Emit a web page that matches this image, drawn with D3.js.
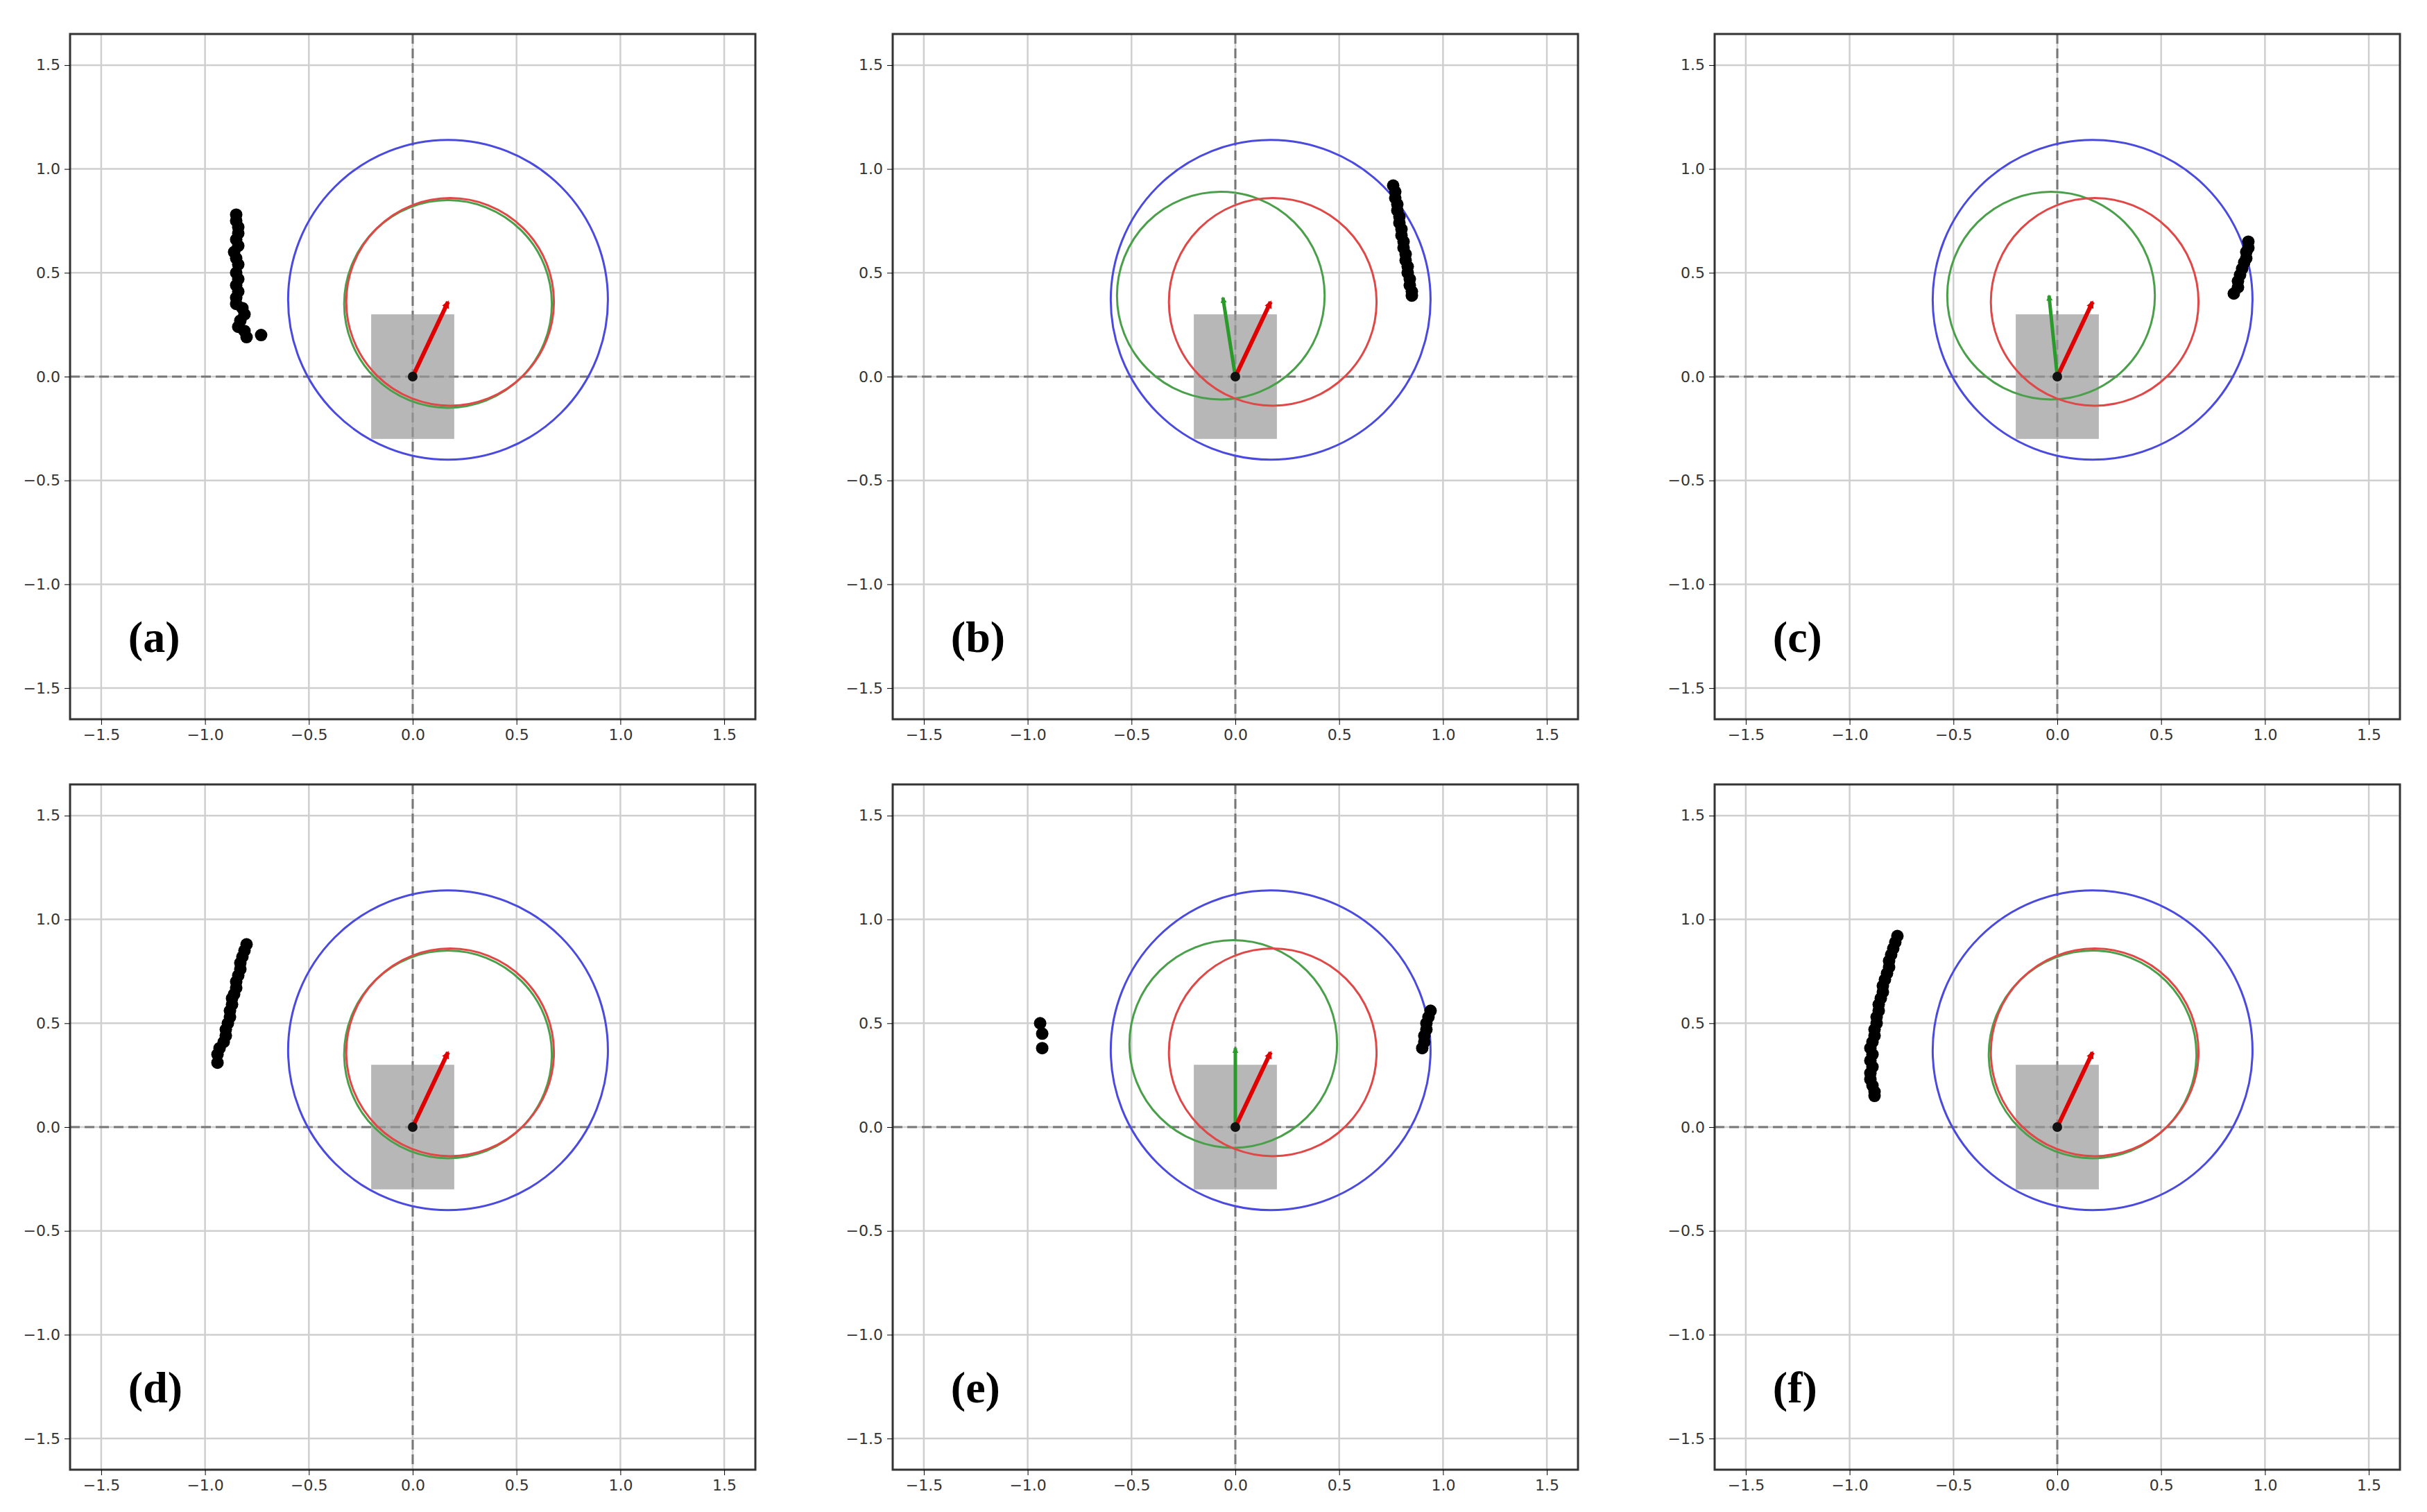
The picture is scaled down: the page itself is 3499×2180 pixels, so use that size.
<!DOCTYPE html>
<html><head><meta charset="utf-8">
<script src="https://cdn.jsdelivr.net/npm/d3@7"></script>
<style>body{margin:0;background:#fff}</style></head>
<body><svg width="3499" height="2180"></svg>
<script>
const panelLabels = ['(a)', '(b)', '(c)', '(d)', '(e)', '(f)'];
const ticks = [-1.5, -1.0, -0.5, 0.0, 0.5, 1.0, 1.5];
const blueCircle = {cx: 0.17, cy: 0.37, r: 0.77};
const redCircle = {cx: 0.18, cy: 0.36, r: 0.5};
const robotBox = {x0: -0.2, x1: 0.2, y0: -0.3, y1: 0.3};
const greenCircles = [
  {cx: 0.17, cy: 0.35, r: 0.5}, {cx: -0.07, cy: 0.39, r: 0.5}, {cx: -0.03, cy: 0.39, r: 0.5},
  {cx: 0.17, cy: 0.35, r: 0.5}, {cx: -0.01, cy: 0.4, r: 0.5}, {cx: 0.17, cy: 0.35, r: 0.5}
];
const redArrow = [0.17, 0.36];
const greenArrows = [null, [-0.06, 0.38], [-0.04, 0.39], null, [0, 0.38], null];
const points = [
  [[-0.85,0.78],[-0.85,0.75],[-0.84,0.72],[-0.84,0.69],[-0.85,0.66],[-0.84,0.63],[-0.86,0.6],[-0.85,0.57],[-0.84,0.54],[-0.85,0.5],[-0.84,0.47],[-0.85,0.44],[-0.84,0.41],[-0.85,0.38],[-0.85,0.35],[-0.82,0.33],[-0.81,0.3],[-0.83,0.27],[-0.84,0.24],[-0.81,0.22],[-0.8,0.19],[-0.73,0.2]],
  [[0.76,0.92],[0.77,0.89],[0.77,0.86],[0.78,0.83],[0.78,0.8],[0.79,0.77],[0.79,0.74],[0.8,0.71],[0.8,0.68],[0.81,0.65],[0.81,0.62],[0.82,0.59],[0.82,0.56],[0.83,0.53],[0.83,0.5],[0.84,0.47],[0.84,0.44],[0.85,0.41],[0.85,0.39]],
  [[0.92,0.65],[0.92,0.62],[0.91,0.6],[0.91,0.57],[0.9,0.55],[0.89,0.52],[0.88,0.49],[0.87,0.46],[0.87,0.43],[0.85,0.4]],
  [[-0.8,0.88],[-0.81,0.85],[-0.82,0.82],[-0.83,0.79],[-0.83,0.76],[-0.84,0.73],[-0.85,0.7],[-0.85,0.67],[-0.86,0.64],[-0.87,0.62],[-0.87,0.59],[-0.88,0.56],[-0.88,0.53],[-0.89,0.5],[-0.9,0.47],[-0.9,0.44],[-0.91,0.41],[-0.93,0.38],[-0.94,0.35],[-0.94,0.31]],
  [[-0.94,0.5],[-0.93,0.45],[-0.93,0.38],[0.94,0.56],[0.93,0.53],[0.92,0.5],[0.92,0.47],[0.91,0.44],[0.91,0.41],[0.9,0.38]],
  [[-0.77,0.92],[-0.78,0.89],[-0.79,0.86],[-0.8,0.83],[-0.81,0.8],[-0.81,0.77],[-0.82,0.74],[-0.83,0.71],[-0.84,0.68],[-0.84,0.65],[-0.85,0.62],[-0.86,0.59],[-0.86,0.56],[-0.87,0.53],[-0.87,0.5],[-0.88,0.47],[-0.88,0.44],[-0.89,0.41],[-0.9,0.38],[-0.89,0.35],[-0.9,0.32],[-0.89,0.29],[-0.9,0.26],[-0.9,0.23],[-0.89,0.2],[-0.88,0.17],[-0.88,0.15]]
];

const svg = d3.select('svg');
const colX = [101, 1287, 2472];
const rowY = [49, 1131];
const size = 988;

svg.append('defs').selectAll('marker')
  .data([['red', '#e00000'], ['green', '#2a9a2a']])
  .join('marker')
  .attr('id', d => 'arr-' + d[0])
  .attr('viewBox', '0 0 10 10').attr('refX', 8).attr('refY', 5)
  .attr('markerWidth', 1.8).attr('markerHeight', 1.8).attr('orient', 'auto')
  .append('path').attr('d', 'M0,0L10,5L0,10z').attr('fill', d => d[1]);

panelLabels.forEach((label, i) => {
  const g = svg.append('g')
    .attr('transform', `translate(${colX[i % 3]},${rowY[Math.floor(i / 3)]})`);
  const x = d3.scaleLinear().domain([-1.65, 1.65]).range([0, size]);
  const y = d3.scaleLinear().domain([-1.65, 1.65]).range([size, 0]);
  const k = x(1) - x(0);

  g.selectAll('line.gx').data(ticks).join('line')
    .attr('x1', d => x(d)).attr('x2', d => x(d)).attr('y1', 0).attr('y2', size)
    .attr('stroke', '#cfcfcf').attr('stroke-width', 2.5);
  g.selectAll('line.gy').data(ticks).join('line')
    .attr('y1', d => y(d)).attr('y2', d => y(d)).attr('x1', 0).attr('x2', size)
    .attr('stroke', '#cfcfcf').attr('stroke-width', 2.5);

  g.append('line').attr('x1', 0).attr('x2', size).attr('y1', y(0)).attr('y2', y(0))
    .attr('stroke', '#777').attr('stroke-width', 3).attr('stroke-dasharray', '14,7');
  g.append('line').attr('y1', 0).attr('y2', size).attr('x1', x(0)).attr('x2', x(0))
    .attr('stroke', '#777').attr('stroke-width', 3).attr('stroke-dasharray', '14,7');

  g.append('rect')
    .attr('x', x(robotBox.x0)).attr('y', y(robotBox.y1))
    .attr('width', x(robotBox.x1) - x(robotBox.x0)).attr('height', y(robotBox.y0) - y(robotBox.y1))
    .attr('fill', '#999').attr('opacity', 0.7);

  const circ = (c, col) => g.append('circle')
    .attr('cx', x(c.cx)).attr('cy', y(c.cy)).attr('r', c.r * k)
    .attr('fill', 'none').attr('stroke', col).attr('stroke-width', 3);
  circ(blueCircle, '#4a4ae0');
  circ(greenCircles[i], '#4aa04a');
  circ(redCircle, '#e04848');

  if (greenArrows[i]) {
    g.append('line').attr('x1', x(0)).attr('y1', y(0))
      .attr('x2', x(greenArrows[i][0])).attr('y2', y(greenArrows[i][1]))
      .attr('stroke', '#2a9a2a').attr('stroke-width', 5).attr('marker-end', 'url(#arr-green)');
  }
  g.append('line').attr('x1', x(0)).attr('y1', y(0))
    .attr('x2', x(redArrow[0])).attr('y2', y(redArrow[1]))
    .attr('stroke', '#e00000').attr('stroke-width', 6).attr('marker-end', 'url(#arr-red)');
  g.append('circle').attr('cx', x(0)).attr('cy', y(0)).attr('r', 7).attr('fill', '#111');

  g.selectAll('circle.pt').data(points[i]).join('circle')
    .attr('cx', d => x(d[0])).attr('cy', d => y(d[1])).attr('r', 9).attr('fill', '#000');

  g.append('rect').attr('width', size).attr('height', size)
    .attr('fill', 'none').attr('stroke', '#333').attr('stroke-width', 3);

  g.append('g').attr('transform', `translate(0,${size})`)
    .call(d3.axisBottom(x).tickValues(ticks).tickSize(8).tickPadding(6).tickFormat(d3.format('.1f')))
    .call(a => a.select('.domain').remove())
    .call(a => a.selectAll('text').attr('font-size', 22).attr('fill', '#333').attr('font-family', 'DejaVu Sans'));
  g.append('g')
    .call(d3.axisLeft(y).tickValues(ticks).tickSize(8).tickPadding(6).tickFormat(d3.format('.1f')))
    .call(a => a.select('.domain').remove())
    .call(a => a.selectAll('text').attr('font-size', 22).attr('fill', '#333').attr('font-family', 'DejaVu Sans'));

  g.append('text').attr('x', x(-1.37)).attr('y', y(-1.25)).attr('dy', '0.35em')
    .attr('font-family', 'Liberation Serif').attr('font-weight', 'bold').attr('font-size', 64)
    .text(label);
});
</script></body></html>
